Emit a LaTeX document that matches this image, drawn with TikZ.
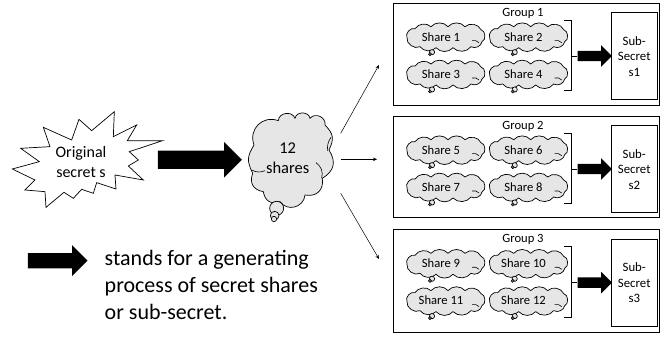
\documentclass[tikz,border=0pt]{standalone}
\usepackage{fontspec}
\setmainfont{Carlito}
\usetikzlibrary{shapes.arrows,arrows.meta}
\definecolor{cloudgray}{HTML}{E7E6E6}
\tikzset{
  every picture/.style={x=1pt,y=-1pt},
  puff/.style={draw=black,fill=cloudgray,line width=0.7pt,line join=round},
  detail/.style={draw=black,line width=0.6pt},
  box/.style={draw=black,fill=white,line width=0.9pt,inner sep=0pt},
  subbox/.style={draw=black,fill=white,line width=0.8pt,inner sep=0pt,align=center,font=\fontsize{12.8}{15.5}\selectfont},
  sharetxt/.style={inner sep=0pt,font=\fontsize{12.6}{15}\selectfont},
  grouptxt/.style={inner sep=0pt,font=\fontsize{12.6}{15}\selectfont},
  blockarrow/.style={single arrow,fill=black,draw=none,inner xsep=0pt,shape border rotate=0,single arrow tip angle=90},
  thinarrow/.style={-{Stealth[length=4pt,width=3.5pt]},line width=0.5pt},
  sharecloud/.pic={
    \draw[puff] (-37,1) to[bend left=70] (-29,-8) to[bend left=50] (-13,-10) to[bend left=50] (4,-10)
      to[bend left=50] (21,-10) to[bend left=55] (37,-7) to[bend left=75] (38,5) to[bend left=55] (27,10)
      to[bend left=50] (9,11) to[bend left=50] (-8,11) to[bend left=50] (-24,10) to[bend left=65] cycle;
    \draw[detail] (28,4) to[bend left=30] (35,6);
    \draw[puff] (-12,15.5) circle (2.6);
    \draw[draw=black,fill=black!60,line width=0.5pt] (-14,17.5) circle (1.6);
  }
}
\begin{document}
\begin{tikzpicture}
\useasboundingbox (0,0) rectangle (672,337);

% star
\begin{scope}[shift={(0,90)},x=0.3333pt,y=-0.3333pt]
\draw[fill=white,draw=black,line width=0.7pt,line join=miter]
 (343,65)--(340,140)--(410,105)--(382,152)--(488,152)--(388,185)--(415,210)--(385,228)--(430,270)--(345,255)--(348,297)--(290,278)--(280,310)--(245,298)--(220,325)--(192,307)--(138,352)--(135,305)--(75,300)--(105,270)--(37,237)--(118,215)--(62,175)--(150,170)--(130,112)--(215,150)--(237,88)--(275,122)--cycle;
\end{scope}
\node[inner sep=0pt,align=center,font=\fontsize{16}{20}\selectfont] (orig) at (81,162.5) {Original\\secret s};

% main cloud
\begin{scope}[shift={(230,50)},x=0.3333pt,y=-0.3333pt]
\draw[puff,looseness=1.25] (72,285) to[bend left=65] (145,212) to[bend left=80] (195,205) to[bend left=80] (240,205)
  to[bend left=75] (285,225) to[bend left=35] (297,300) to[bend left=45] (277,385) to[bend left=55] (225,435)
  to[bend left=70] (150,455) to[bend left=50] (100,425) to[bend left=50] (68,370) to[bend left=28] cycle;
\draw[detail] (258,338) to[bend left=35] (275,385);
\draw[detail] (303,262) to[bend right=20] (293,303);
\draw[detail] (65,360) to[bend right=25] (105,362);
\draw[puff] (140,475) circle (21);
\draw[puff] (134,497) circle (13);
\draw[puff] (132,507) circle (8);
\end{scope}
\node[inner sep=0pt,align=center,font=\fontsize{16.5}{20}\selectfont] (twelve) at (287.7,158) {12\\shares};

% big arrows
\node[blockarrow,anchor=west,minimum height=84pt,inner ysep=9pt,single arrow head extend=8.7pt] (bigarrow) at (157.7,159.7) {};
\node[blockarrow,anchor=west,minimum height=59.6pt,inner ysep=7.5pt,single arrow head extend=7.8pt] (legendarrow) at (27.7,260.7) {};

% legend text
\node[anchor=west,inner sep=0pt,align=left,font=\fontsize{22}{26.7}\selectfont] (legend) at (104.5,285) {stands for a generating\\process of secret shares\\or sub-secret.};

% groups
\foreach \g/\dy/\h/\sa/\sb/\sc/\sd in {1/0/102.3/Share 1/Share 2/Share 3/Share 4,2/113/101/Share 5/Share 6/Share 7/Share 8,3/226.6/103/Share 9/Share 10/Share 11/Share 12}{
  \begin{scope}[yshift=-\dy pt]
    \node[box,anchor=north west,minimum width=266pt,minimum height=\h pt] (group\g) at (393.3,2.7) {};
    \node[grouptxt] (grouplabel\g) at (523,13) {Group \g};
    \pic at (444,36.7) {sharecloud};
    \pic at (526.7,36.7) {sharecloud};
    \pic at (444,74) {sharecloud};
    \pic at (526.7,74) {sharecloud};
    \node[sharetxt] (a\g) at (441,36.7) {\sa};
    \node[sharetxt] (b\g) at (523.5,36.7) {\sb};
    \node[sharetxt] (c\g) at (441,74) {\sc};
    \node[sharetxt] (d\g) at (523.5,74) {\sd};
    \node[subbox,anchor=north west,minimum width=45.7pt,minimum height=87pt,text width=45.7pt] (sub\g) at (611,12.3) {Sub-\\Secret\\s\g};
    \coordinate (bra\g) at (571.7,56);
    \draw[line width=0.7pt] (564.3,20) -- (571.7,20) -- (571.7,90.7) -- (564.3,90.7);
    \node[blockarrow,anchor=west,minimum height=34.4pt,inner ysep=5pt,single arrow head extend=5.6pt] (gen\g) at (577.3,56) {};
    \draw[line width=0.7pt] (bra\g) -- (gen\g.west);
  \end{scope}
}

% connectors
\coordinate (c1) at (340.7,133.3);
\coordinate (c2) at (341,159.3);
\coordinate (c3) at (340.7,193.3);
\coordinate (e1) at (379,65);
\coordinate (e2) at (377,159.3);
\coordinate (e3) at (379,259);
\draw[thinarrow] (c1) -- (e1);
\draw[thinarrow] (c2) -- (e2);
\draw[thinarrow] (c3) -- (e3);
\end{tikzpicture}
\end{document}
